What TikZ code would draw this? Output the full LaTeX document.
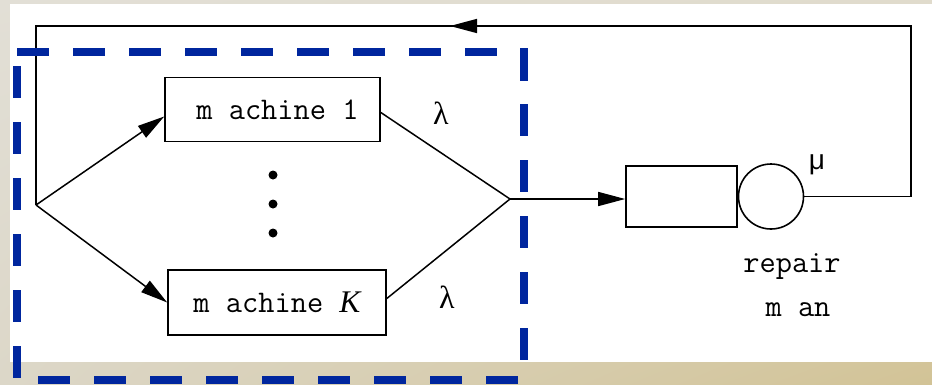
\documentclass[tikz,border=0pt]{standalone}
\usepackage{fontspec}
\newfontfamily\symf{Liberation Serif}
\newfontfamily\sansf{Liberation Sans}
\usetikzlibrary{arrows.meta,calc,shadings}
\definecolor{dblue}{RGB}{0,38,158}
\definecolor{bgA}{RGB}{226,223,214}
\definecolor{bgB}{RGB}{224,219,204}
\definecolor{bgC}{RGB}{220,215,200}
\definecolor{bgD}{RGB}{210,195,150}
\newcommand{\monosz}{\ttfamily\fontsize{31.5}{34}\selectfont}
\tikzset{
  mbox/.style={draw, line width=1.6pt, minimum width=215pt, minimum height=64pt, inner sep=0pt, font=\monosz},
  qbox/.style={draw, line width=1.6pt, minimum width=111pt, minimum height=61pt, inner sep=0pt},
  srv/.style={draw, circle, line width=1.6pt, minimum size=65pt, inner sep=0pt},
  conn/.style={line width=1.5pt},
  arr/.style={conn, -{Triangle[length=27pt,width=14pt]}},
  bdash/.style={dblue, line width=8pt},
  lbl/.style={font=\monosz, inner sep=0pt, anchor=base},
  greek/.style={font=\symf\fontsize{32}{34}\selectfont, inner sep=0pt},
  dotn/.style={circle, fill, inner sep=0pt, minimum size=9pt},
}
\begin{document}
\begin{tikzpicture}[x=1pt,y=-1pt]
\useasboundingbox (0,0) rectangle (932,384);
% background
\shade[upper left=bgA, upper right=bgB, lower left=bgC, lower right=bgD] (0,0) rectangle (932,384);
\fill[white] (10,4) rectangle (932,362);

% nodes
\node[mbox] (m1) at (272.5,109.5) {\hspace*{10pt}m achine 1};
\node[mbox, minimum width=218pt, minimum height=65pt] (mK) at (277,302.5) {m achine {\symf\itshape K}};
\node[dotn] (d1) at (273,175) {};
\node[dotn] (d2) at (273,204) {};
\node[dotn] (d3) at (273,233) {};
\node[qbox] (queue) at (681.5,196.5) {};
\node[srv] (server) at (771,196.5) {};

\node[greek] (l1) at (441,113) {λ};
\node[greek] (l2) at (447,297) {λ};
\node[font=\sansf\fontsize{28}{30}\selectfont, inner sep=0pt] (mu) at (817,165) {μ};
\node[lbl] (rep) at (792,272) {repair};
\node[lbl] (man) at (798,316) {m an};

% coordinates
\coordinate (fork) at (36,205);
\coordinate (join) at (510,199);
\coordinate (tr) at (911,26);
\coordinate (tl) at (36,26);
\coordinate (mid) at (450,26);
\coordinate (sr) at (911,196.5);

% connectors
\draw[arr] (fork) -- ([yshift=-7pt]m1.west);
\draw[arr] (fork) -- (mK.west);
\draw[conn] ([yshift=-3pt]m1.east) -- (join);
\draw[conn] ([yshift=4pt]mK.east) -- (join);
\draw[arr] (join) -- (join -| queue.west);
\draw[conn] (server.east) -- (sr) -- (tr) -- ([xshift=-1pt]mid);
\draw[arr] (tr) -- (mid);
\draw[conn] (mid) -- (tl) -- (fork);

% dashed blue boundary
\draw[bdash, dash pattern=on 32pt off 24pt] (17,52) -- (524,52);
\draw[bdash, dash pattern=on 33pt off 23pt on 32pt off 24pt on 32pt off 24pt on 32pt off 24pt on 32pt off 24pt on 32pt off 24pt] (523.5,48) -- (523.5,362);
\draw[bdash, dash pattern=on 32pt off 24pt] (17,66) -- (17,378);
\draw[bdash, dash pattern=on 32pt off 24pt] (38,380) -- (524,380);
\end{tikzpicture}
\end{document}
